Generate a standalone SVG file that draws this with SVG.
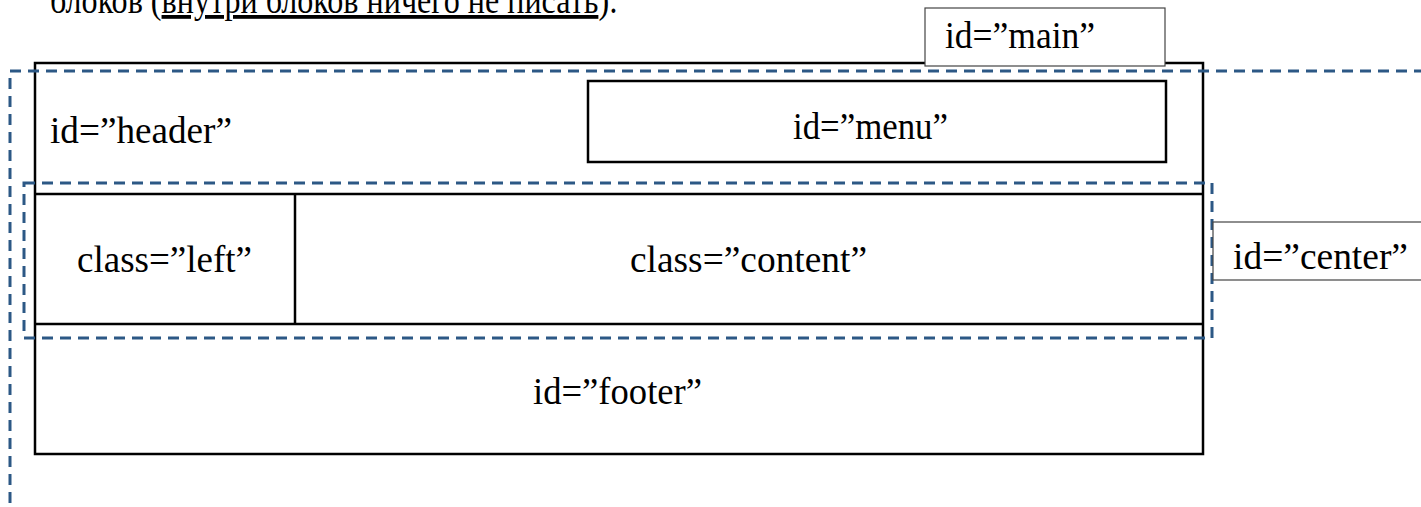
<svg xmlns="http://www.w3.org/2000/svg" width="1421" height="507" viewBox="0 0 1421 507">
<style>
.t{font-family:"Liberation Serif","Times New Roman",serif;font-size:38px;fill:#000}
.box{fill:none;stroke:#000;stroke-width:2.5}
.lbl{fill:#fff;stroke:#444;stroke-width:1.2}
.dash{fill:none;stroke:#2C5885;stroke-width:3;stroke-dasharray:11 7}
</style>
<rect width="1421" height="507" fill="#fff"/>
<g id="caption">
<text class="t" x="50" y="13" textLength="568" lengthAdjust="spacingAndGlyphs">блоков (<tspan text-decoration="underline">внутри блоков ничего не писать</tspan>):</text>
</g>
<g id="main">
<rect class="box" x="35" y="63" width="1168" height="391"/>
</g>
<g id="header">
<line class="box" x1="35" y1="194" x2="1203" y2="194"/>
<text class="t" x="50" y="143" textLength="182" lengthAdjust="spacingAndGlyphs">id=”header”</text>
</g>
<g id="menu">
<rect class="box" x="588" y="81" width="578" height="81"/>
<text class="t" x="793" y="139" textLength="155" lengthAdjust="spacingAndGlyphs">id=”menu”</text>
</g>
<g id="center-rows">
<line class="box" x1="35" y1="324" x2="1203" y2="324"/>
</g>
<g id="left">
<line class="box" x1="295" y1="194" x2="295" y2="324"/>
<text class="t" x="77" y="272" textLength="175" lengthAdjust="spacingAndGlyphs">class=”left”</text>
</g>
<g id="content">
<text class="t" x="630" y="272" textLength="237" lengthAdjust="spacingAndGlyphs">class=”content”</text>
</g>
<g id="footer">
<text class="t" x="533" y="404" textLength="169" lengthAdjust="spacingAndGlyphs">id=”footer”</text>
</g>
<g id="main-outline">
<rect class="dash" x="10" y="71" width="1430" height="460"/>
</g>
<g id="center-outline">
<rect class="dash" x="24" y="183" width="1188" height="155"/>
</g>
<g id="main-label">
<rect class="lbl" x="925" y="8" width="240" height="58"/>
<text class="t" x="945" y="48" textLength="150" lengthAdjust="spacingAndGlyphs">id=”main”</text>
</g>
<g id="center-label">
<rect class="lbl" x="1213" y="222" width="220" height="58"/>
<text class="t" x="1233" y="269" textLength="175" lengthAdjust="spacingAndGlyphs">id=”center”</text>
</g>
<g id="connectors"></g>
</svg>
